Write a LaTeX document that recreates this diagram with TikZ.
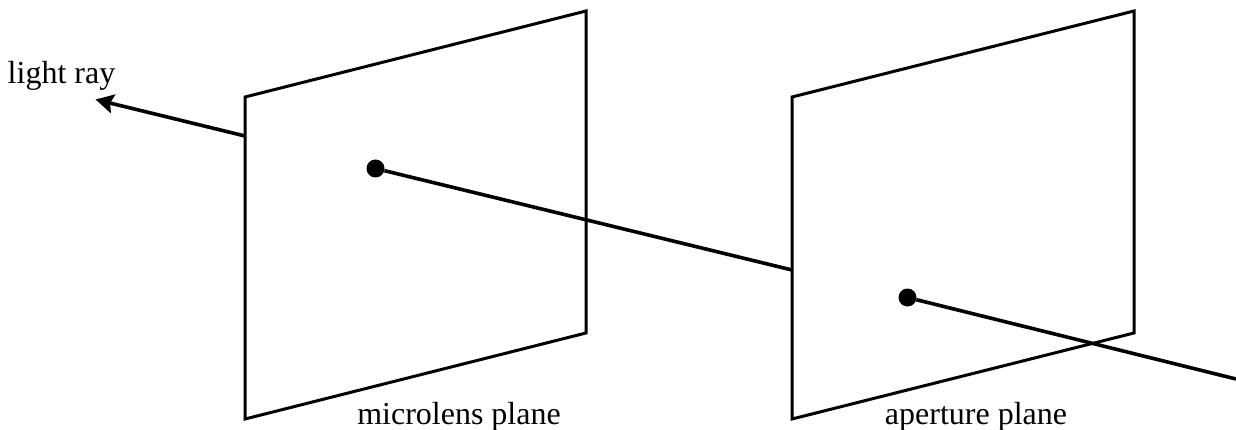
\documentclass[tikz,border=0pt]{standalone}
\usepackage{fontspec}
\setmainfont{Liberation Serif}
\usetikzlibrary{arrows.meta}
\tikzset{
 plane/.style={draw=black,line width=3pt,line join=miter},
 ray/.style={draw=black,line width=3.6pt},
 dot/.style={circle,fill=black,inner sep=0pt,minimum size=18pt},
 lbl/.style={font=\fontsize{32}{36}\selectfont,inner sep=0pt,anchor=base}
}
\begin{document}
\begin{tikzpicture}[x=1pt,y=-1pt]
\useasboundingbox (0,0) rectangle (1236,430);
\draw[plane] (245,97) -- (586,11) -- (586,333) -- (245,419) -- cycle;
\draw[plane] (792,97) -- (1134,11) -- (1134,333) -- (792,419) -- cycle;
\node[dot] (d1) at (375.5,168.5) {};
\node[dot] (d2) at (907.5,297.5) {};
\coordinate (e1) at (245,136);
\coordinate (tip) at (95.5,99.5);
\coordinate (e2) at (792,270);
\coordinate (e3) at (1236,379);
\draw[ray,-{Stealth[length=18pt,width=19pt,inset=3pt]}] (e1) -- (tip);
\draw[ray] (d1) -- (e2);
\draw[ray] (d2) -- (e3);
\node[lbl] (t1) at (61.5,83.5) {light ray};
\node[lbl] (t2) at (459,424) {microlens plane};
\node[lbl] (t3) at (976,424) {aperture plane};
\end{tikzpicture}
\end{document}
